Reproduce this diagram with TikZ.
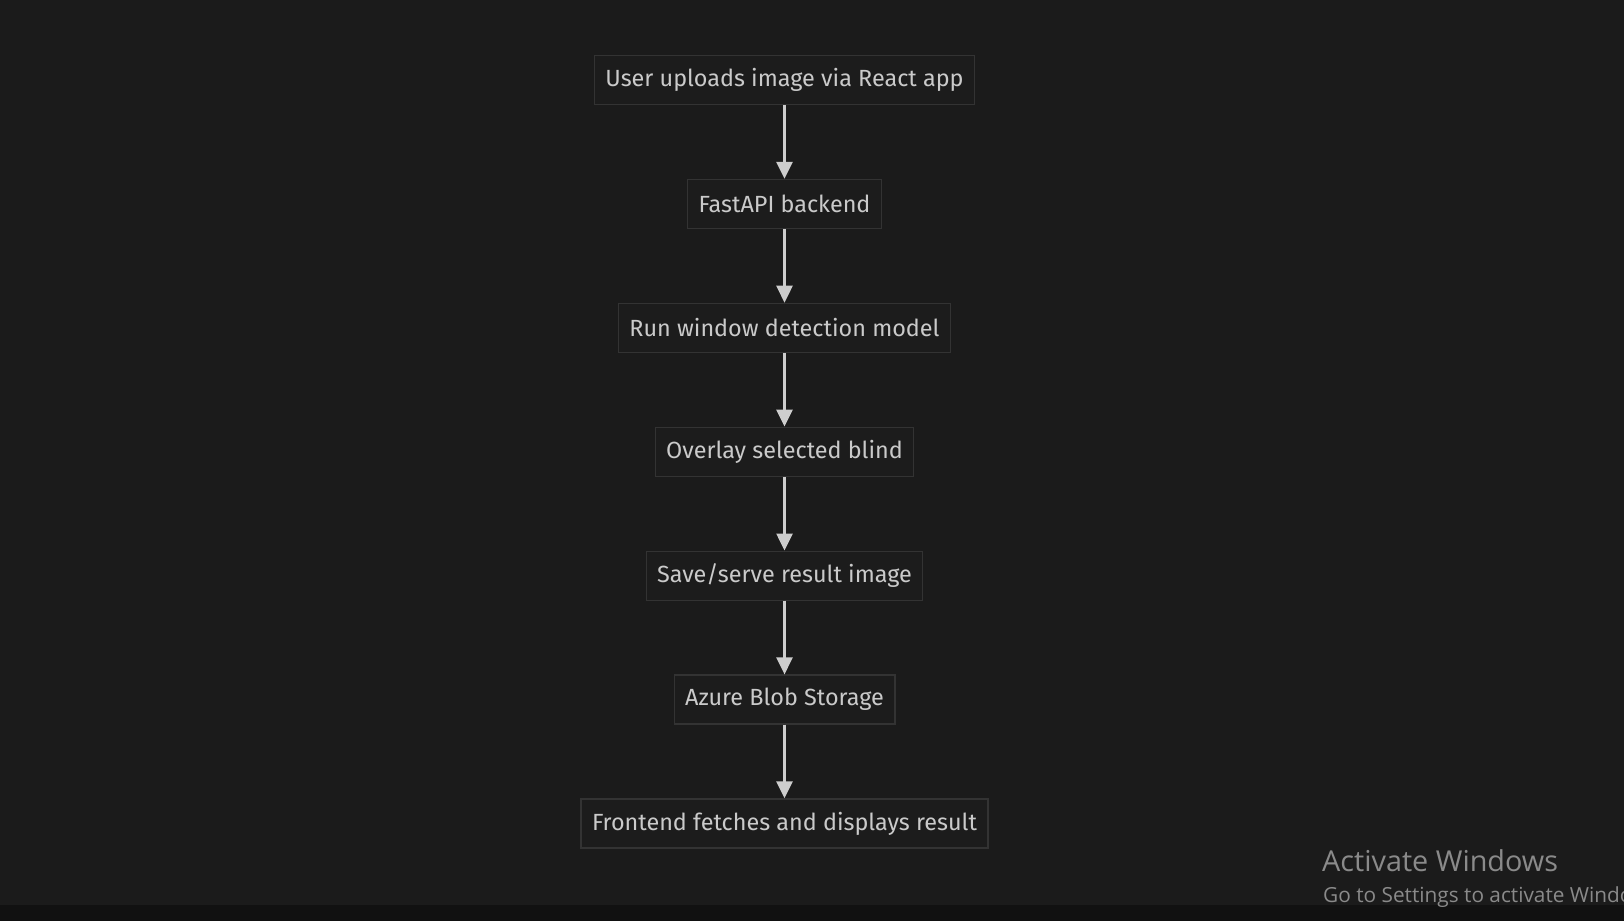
\documentclass[tikz,border=0pt]{standalone}
\usepackage{fontspec}
\setmainfont{Fira Sans}
\newfontfamily\winfont{Open Sans}
\usepackage{xcolor}
\usetikzlibrary{positioning,arrows.meta}
\definecolor{bgdark}{HTML}{1B1B1B}
\definecolor{taskbar}{HTML}{111111}
\definecolor{boxfill}{HTML}{1C1C1C}
\definecolor{boxline}{HTML}{333333}
\definecolor{boxtext}{HTML}{CACACA}
\definecolor{arrowgray}{HTML}{CDCDCD}
\definecolor{wintext}{HTML}{8A8A8A}

\begin{document}
\begin{tikzpicture}[x=1pt, y=1pt,
    flowbox/.style={draw=boxline, fill=boxfill, line width=1.2pt, text=boxtext,
        font=\fontsize{23.4}{27}\selectfont, minimum height=49pt, inner xsep=11pt},
    flowarrow/.style={draw=arrowgray, line width=2.6pt, -{Triangle[width=16pt, length=17pt]}},
    node distance=73.7pt]
    % Background
    \fill[bgdark] (0,0) rectangle (1624,-921);
    \useasboundingbox (0,0) rectangle (1624,-921);
    \fill[taskbar] (0,-905) rectangle (1624,-921);

    % Flow steps
    \node[flowbox] (upload) at (784.5,-80) {User uploads image via React app};
    \node[flowbox, below=of upload] (backend) {FastAPI backend};
    \node[flowbox, below=of backend] (detect) {Run window detection model};
    \node[flowbox, below=of detect] (overlay) {Overlay selected blind};
    \node[flowbox, below=of overlay] (save) {Save/serve result image};
    \node[flowbox, below=of save] (blob) {Azure Blob Storage};
    \node[flowbox, below=of blob] (fetch) {Frontend fetches and displays result};

    % Arrows
    \draw[flowarrow] (upload) -- (backend);
    \draw[flowarrow] (backend) -- (detect);
    \draw[flowarrow] (detect) -- (overlay);
    \draw[flowarrow] (overlay) -- (save);
    \draw[flowarrow] (save) -- (blob);
    \draw[flowarrow] (blob) -- (fetch);

    % Watermark
    \node[anchor=west, text=wintext, font=\winfont\fontsize{28.8}{32}\selectfont, inner sep=0pt] (activate) at (1322,-861) {Activate Windows};
    \node[anchor=west, text=wintext, font=\winfont\fontsize{20.8}{24}\selectfont, inner sep=0pt] (settings) at (1323,-897) {Go to Settings to activate Windows.};
\end{tikzpicture}
\end{document}
